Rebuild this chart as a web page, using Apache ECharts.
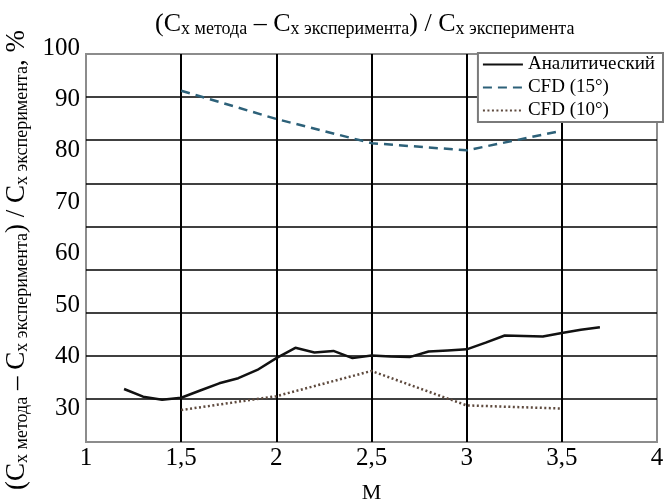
<!DOCTYPE html>
<html>
<head>
<meta charset="utf-8">
<script src="https://cdn.jsdelivr.net/npm/echarts@6/dist/echarts.min.js"></script>
<style>html,body{margin:0;padding:0;background:#fff}#c{width:665px;height:502px}</style>
</head>
<body>
<div id="c"></div>
<script>
// Data
const machAnalytic = [1.2,1.3,1.4,1.5,1.6,1.7,1.8,1.9,2.0,2.1,2.2,2.3,2.4,2.5,2.6,2.7,2.8,2.9,3.0,3.1,3.2,3.3,3.4,3.5,3.6,3.7];
const valAnalytic  = [33.7,32.2,31.6,32.0,33.4,34.8,35.8,37.4,39.7,41.7,40.8,41.1,39.7,40.2,40.0,39.9,41.0,41.2,41.4,42.7,44.1,44.0,43.9,44.6,45.2,45.7];
const machCFD15 = [1.5,2.0,2.5,3.0,3.5];
const valCFD15  = [91.7,86.2,81.5,80.1,83.9];
const machCFD10 = [1.5,2.0,2.5,3.0,3.5];
const valCFD10  = [29.6,32.3,37.2,30.5,29.9];
const seriesNames = ['Аналитический','CFD (15°)','CFD (10°)'];
const xTicks = [1,1.5,2,2.5,3,3.5,4];
const yTicks = [30,40,50,60,70,80,90,100];

const pairs = (xs, ys) => xs.map((x, i) => [x, ys[i]]);
const serif = 'Liberation Serif';
const richTitle = {
  m: {fontFamily: serif, fontSize: 26, fontWeight: 'normal', color: '#000'},
  s: {fontFamily: serif, fontSize: 18, fontWeight: 'normal', color: '#000', padding: [10, 0, 0, 0]}
};
const richY = {
  m: {fontFamily: serif, fontSize: 27, fontWeight: 'normal', color: '#000'},
  s: {fontFamily: serif, fontSize: 18, fontWeight: 'normal', color: '#000', padding: [11, 0, 0, 0]}
};
const chart = echarts.init(document.getElementById('c'));
chart.setOption({
  animation: false,
  backgroundColor: '#fff',
  title: {
    text: '{m|(C}{s|x метода}{m| – C}{s|x эксперимента}{m|) / C}{s|x эксперимента}',
    left: 150, top: 5,
    textStyle: {rich: richTitle, fontWeight: 'normal'}
  },
  legend: {
    data: seriesNames,
    orient: 'vertical',
    right: 2, top: 53,
    itemWidth: 40, itemHeight: 12, itemGap: 4,
    padding: [2, 8, 2, 4],
    borderColor: '#7a7a7a', borderWidth: 2,
    backgroundColor: '#fff',
    itemStyle: {opacity: 0},
    textStyle: {fontFamily: serif, fontSize: 19, color: '#000'}
  },
  grid: [
    {left: 86, right: 8, top: 54, bottom: 60, outerBoundsMode: 'none',
     show: true, borderColor: '#8c8c8c', borderWidth: 2, backgroundColor: '#fff'},
    {left: 86, right: 8, top: 48, bottom: 94, outerBoundsMode: 'none'}
  ],
  xAxis: [
    {
      gridIndex: 0, type: 'value', min: 1, max: 4, interval: 0.5,
      name: 'M', nameLocation: 'middle', nameGap: 40,
      nameTextStyle: {fontFamily: serif, fontSize: 22, color: '#000'},
      axisLine: {show: false}, axisTick: {show: false},
      axisLabel: {
        fontFamily: serif, fontSize: 25, color: '#000', margin: 4,
        customValues: xTicks,
        formatter: v => String(v).replace('.', ',')
      },
      splitLine: {show: true, showMinLine: false, showMaxLine: false, lineStyle: {color: '#000', width: 2}}
    },
    {
      gridIndex: 1, type: 'value', min: 1, max: 4, show: false
    }
  ],
  yAxis: [
    {
      gridIndex: 0, type: 'value', min: 10, max: 100, interval: 10,
      axisLine: {show: false}, axisTick: {show: false}, axisLabel: {show: false},
      splitLine: {show: true, showMinLine: false, showMaxLine: false, lineStyle: {color: '#000', width: 1.5}}
    },
    {
      gridIndex: 1, type: 'value', min: 30, max: 100, interval: 10, position: 'left',
      axisLine: {show: false}, axisTick: {show: false}, splitLine: {show: false},
      axisLabel: {customValues: yTicks, fontFamily: serif, fontSize: 25, color: '#000', margin: 6},
      name: '{m|(C}{s|x метода}{m| – C}{s|x эксперимента}{m|) / C}{s|x эксперимента}{m|, %}',
      nameLocation: 'middle', nameRotate: 90, nameGap: 48,
      nameTextStyle: {rich: richY, padding: [0, 64, 0, 0]}
    }
  ],
  series: [
    {
      name: seriesNames[0], type: 'line', xAxisIndex: 1, yAxisIndex: 1, symbol: 'none', clip: false,
      data: pairs(machAnalytic, valAnalytic),
      lineStyle: {color: '#111', width: 2.5}, itemStyle: {color: '#111'}
    },
    {
      name: seriesNames[1], type: 'line', xAxisIndex: 1, yAxisIndex: 1, symbol: 'none', clip: false,
      data: pairs(machCFD15, valCFD15),
      lineStyle: {color: '#2d6179', width: 2.5, type: [9, 6]}, itemStyle: {color: '#2d6179'}
    },
    {
      name: seriesNames[2], type: 'line', xAxisIndex: 1, yAxisIndex: 1, symbol: 'none', clip: false,
      data: pairs(machCFD10, valCFD10),
      lineStyle: {color: '#5e4a3e', width: 2.5, type: [2, 2.5]}, itemStyle: {color: '#5e4a3e'}
    }
  ]
});
</script>
</body>
</html>
